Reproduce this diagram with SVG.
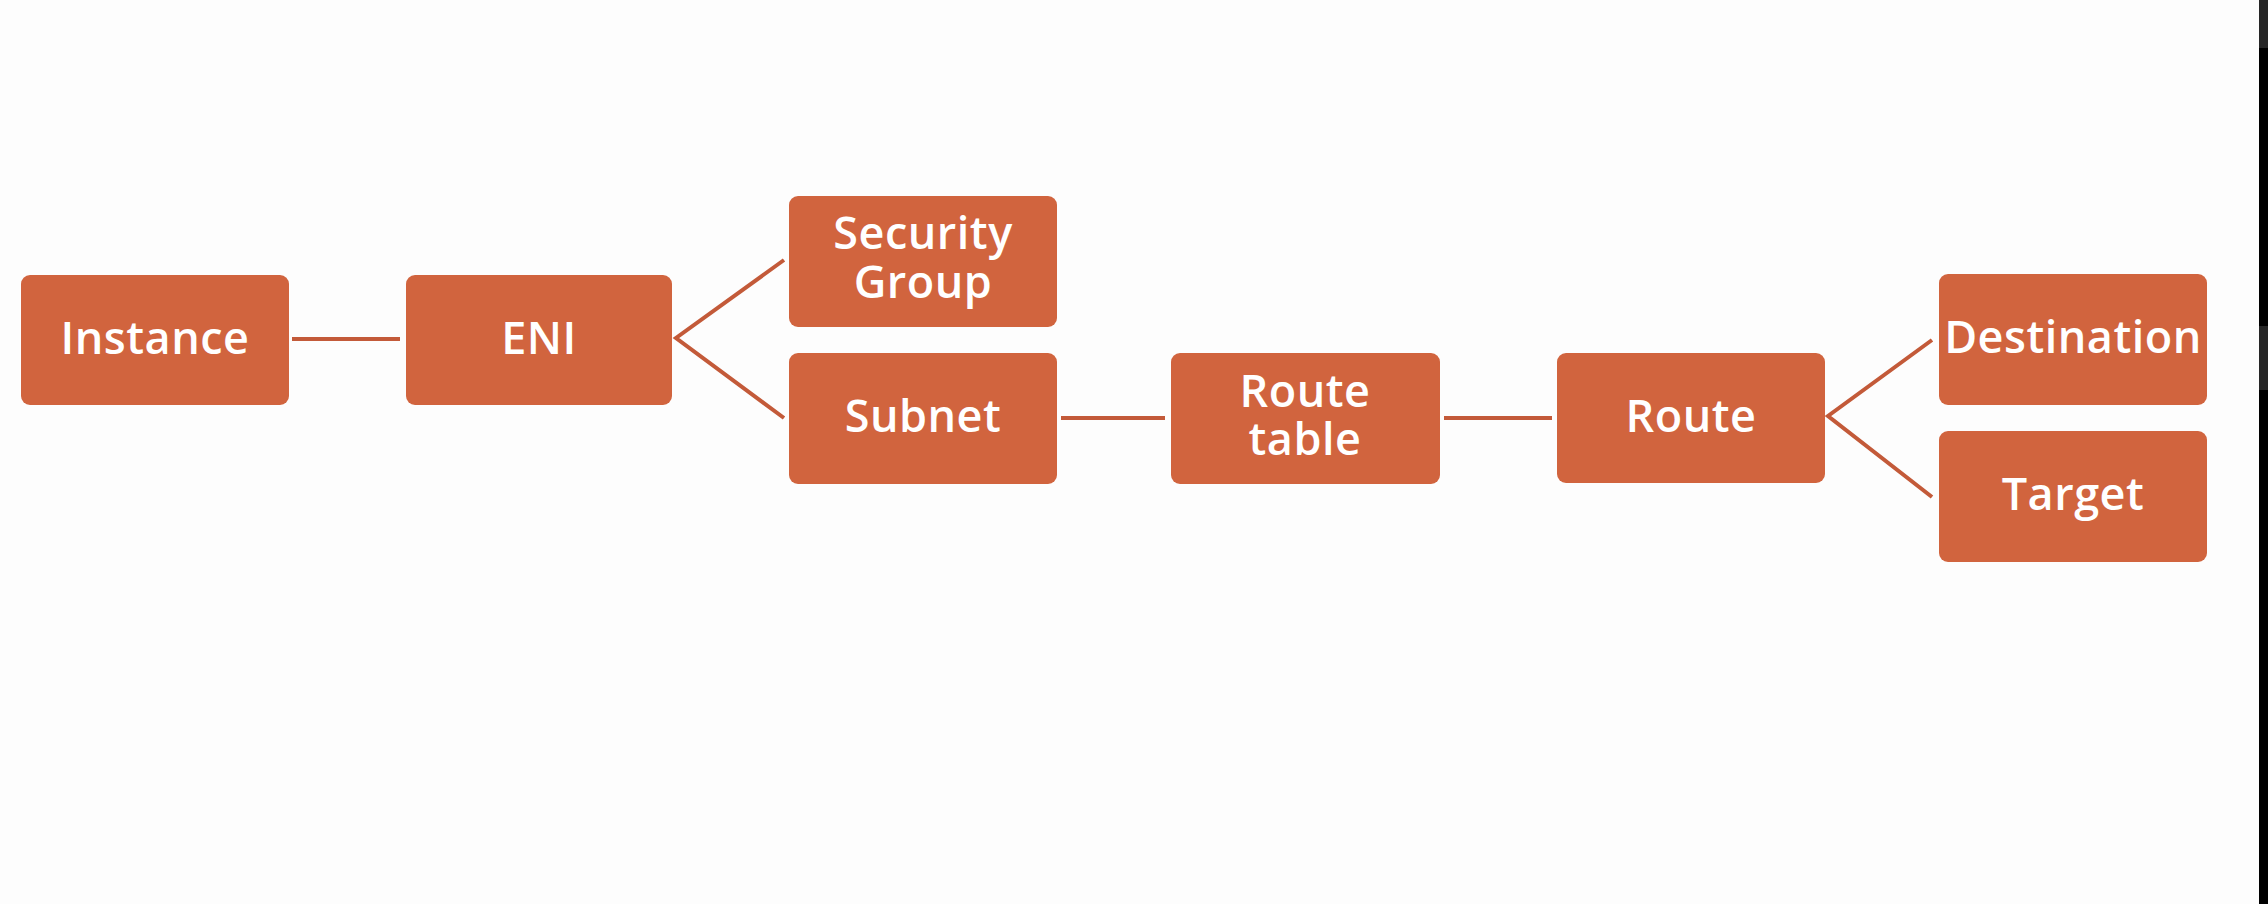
<svg xmlns="http://www.w3.org/2000/svg" width="2268" height="904" viewBox="0 0 2268 904">
<style>
.box{fill:#d1643e;}
.lbl{fill:#ffffff;font-family:"Open Sans","Liberation Sans",sans-serif;font-weight:600;font-size:45px;letter-spacing:0.5px;text-anchor:middle;dominant-baseline:central;}
.conn{stroke:#c35a39;stroke-width:4;fill:none;stroke-linecap:butt;stroke-linejoin:miter;}
</style>
<rect x="0" y="0" width="2268" height="904" fill="#fdfdfd"/>
<g id="scrollbar">
<rect x="2259" y="0" width="9" height="48" fill="#262626"/>
<rect x="2259" y="48" width="9" height="278" fill="#000000"/>
<rect x="2259" y="326" width="9" height="64" fill="#262626"/>
<rect x="2259" y="390" width="9" height="514" fill="#000000"/>
</g>
<g id="connectors">
<line class="conn" x1="292" y1="339" x2="400" y2="339"/>
<polyline class="conn" points="784,260 676,338 784,418"/>
<line class="conn" x1="1061" y1="418" x2="1165" y2="418"/>
<line class="conn" x1="1444" y1="418" x2="1552" y2="418"/>
<polyline class="conn" points="1932,340 1828,416 1932,497"/>
</g>
<g id="instance"><rect class="box" x="21" y="275" width="268" height="130" rx="9"/><text class="lbl" x="155" y="336">Instance</text></g>
<g id="eni"><rect class="box" x="406" y="275" width="266" height="130" rx="9"/><text class="lbl" x="539" y="336">ENI</text></g>
<g id="security-group"><rect class="box" x="789" y="196" width="268" height="131" rx="9"/><text class="lbl"><tspan x="923" y="231">Security</tspan><tspan x="923" y="280">Group</tspan></text></g>
<g id="subnet"><rect class="box" x="789" y="353" width="268" height="131" rx="9"/><text class="lbl" x="923" y="414">Subnet</text></g>
<g id="route-table"><rect class="box" x="1171" y="353" width="269" height="131" rx="9"/><text class="lbl"><tspan x="1305" y="389">Route</tspan><tspan x="1305" y="437">table</tspan></text></g>
<g id="route"><rect class="box" x="1557" y="353" width="268" height="130" rx="9"/><text class="lbl" x="1691" y="414">Route</text></g>
<g id="destination"><rect class="box" x="1939" y="274" width="268" height="131" rx="9"/><text class="lbl" x="2073" y="335">Destination</text></g>
<g id="target"><rect class="box" x="1939" y="431" width="268" height="131" rx="9"/><text class="lbl" x="2073" y="492">Target</text></g>
</svg>
